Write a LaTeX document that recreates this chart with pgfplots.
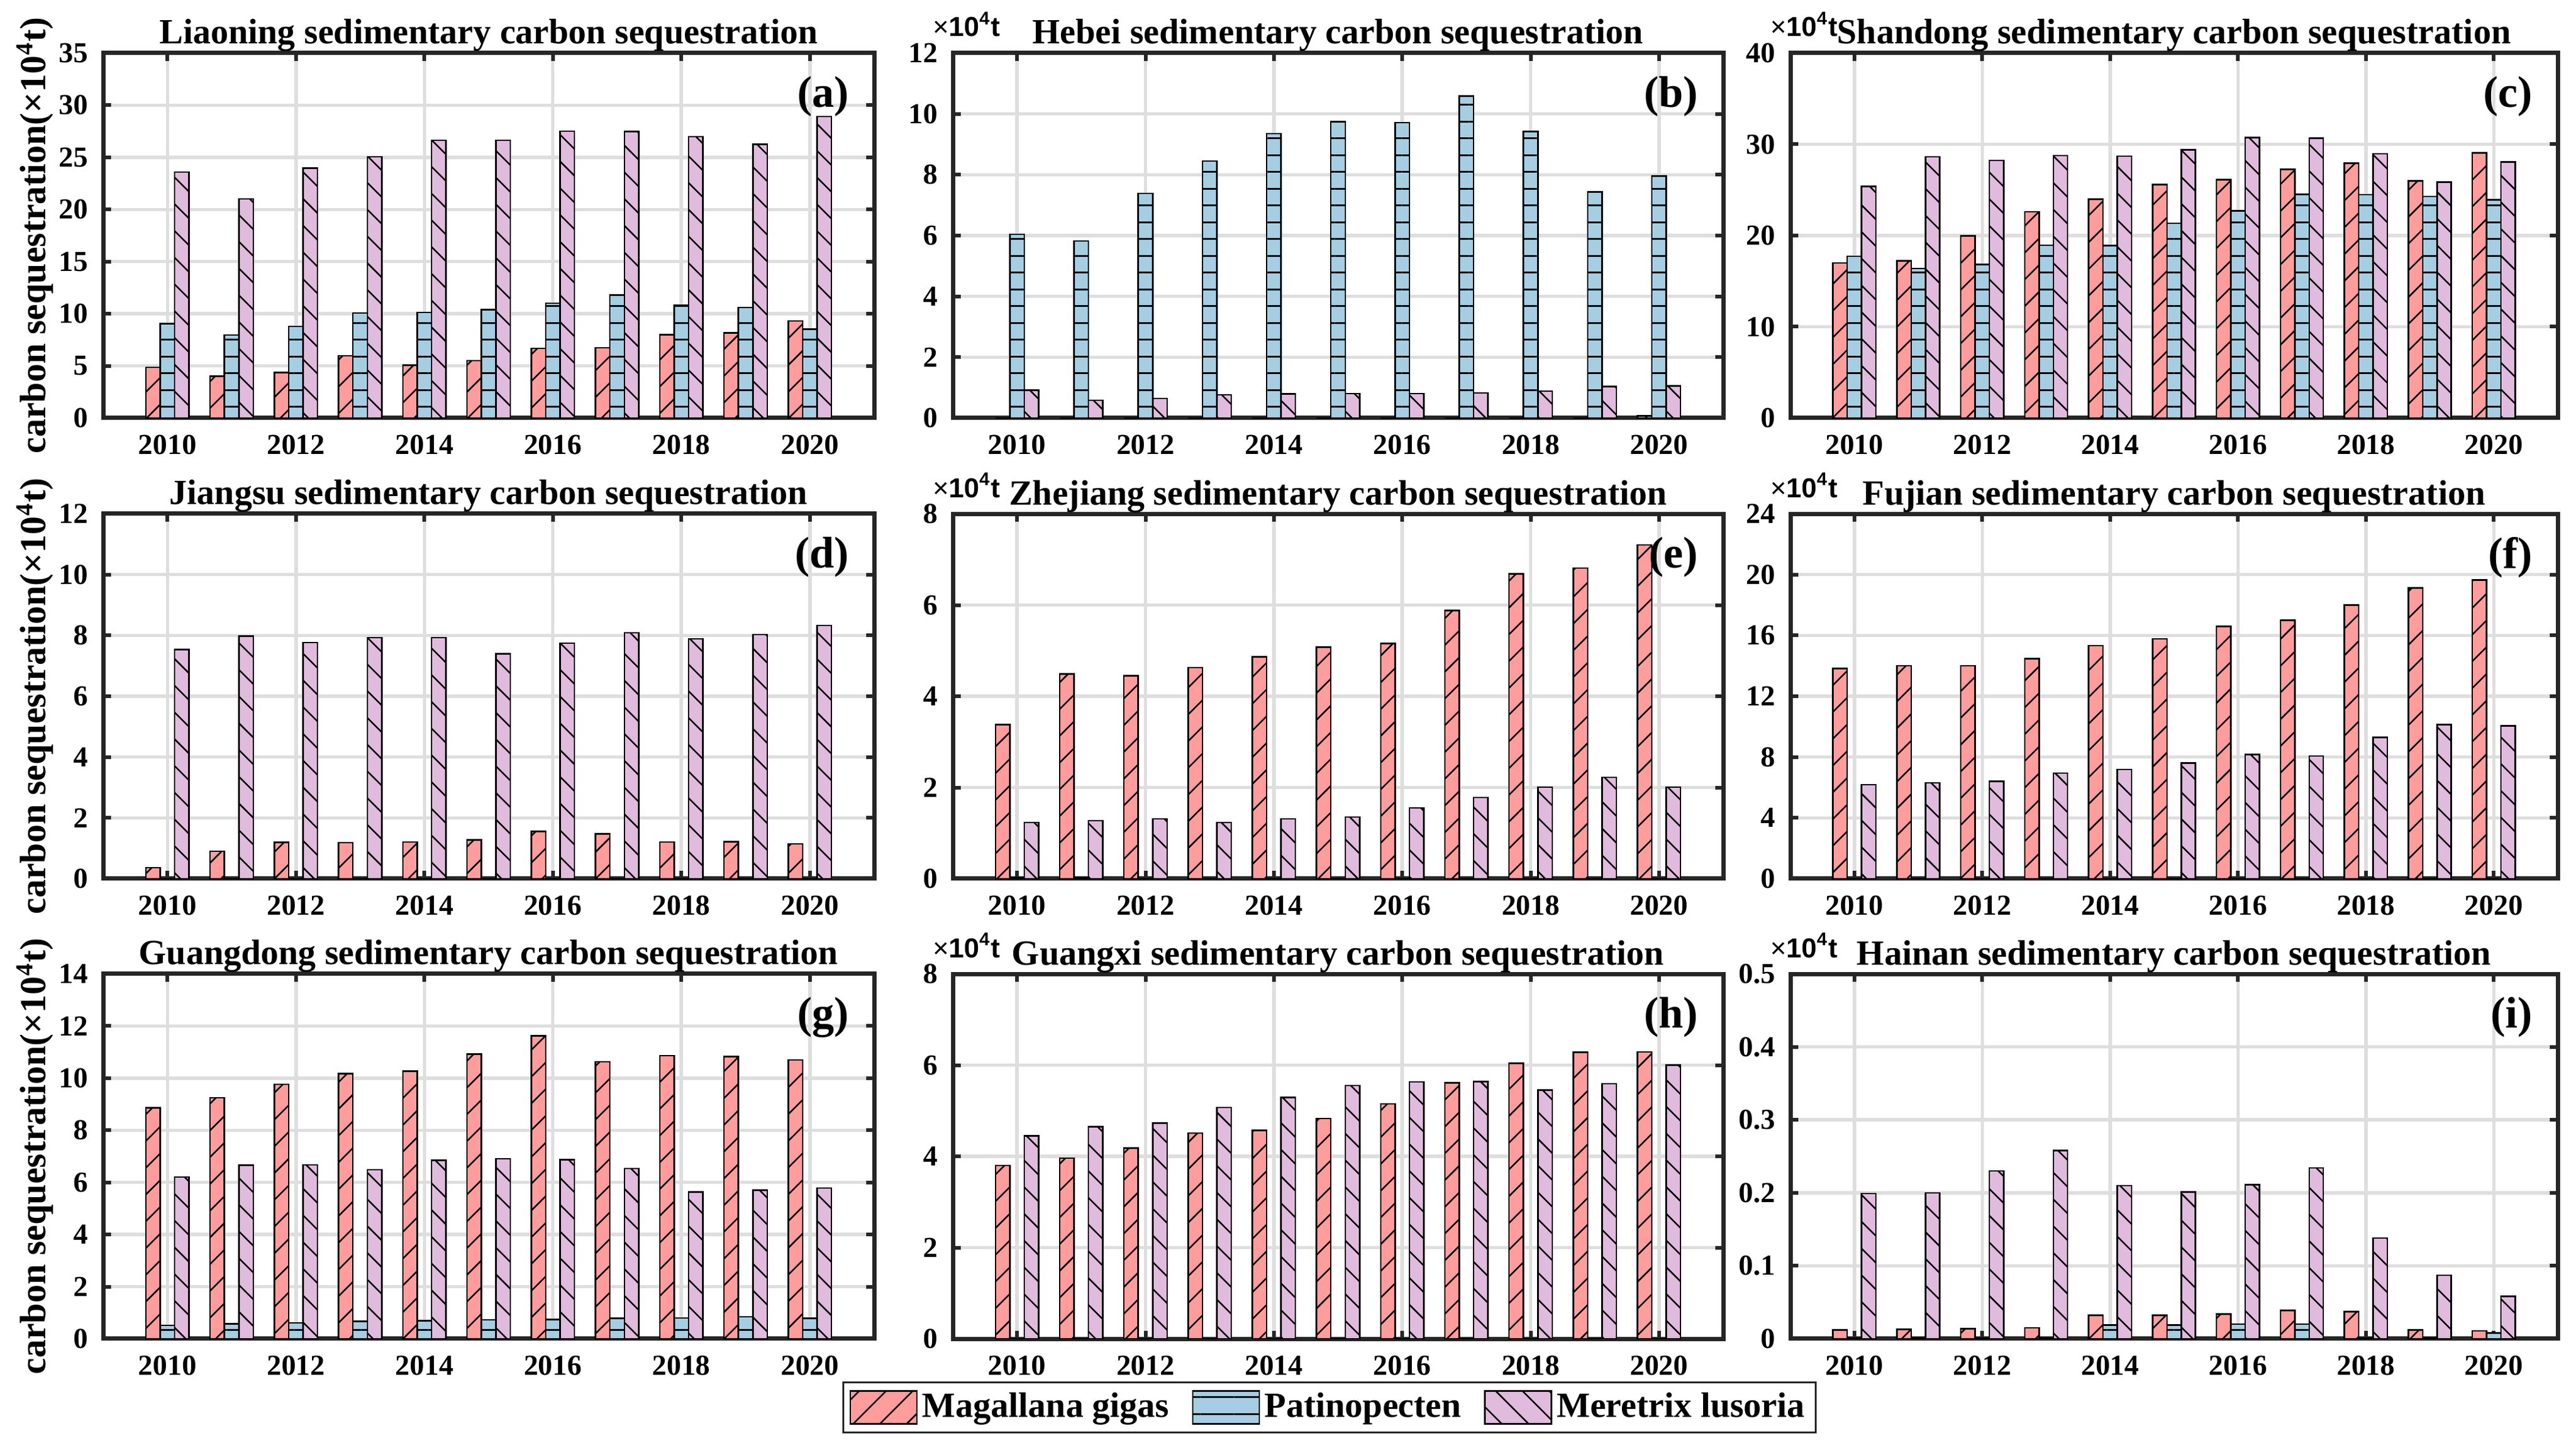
\documentclass[border=0pt]{standalone}
\usepackage{fontspec}
\setmainfont{Liberation Serif}
\newfontfamily\lsans{Liberation Sans}
\usepackage{pgfplots}
\pgfplotsset{compat=1.18}
\usetikzlibrary{patterns.meta}
\definecolor{cRed}{RGB}{255,157,157}
\definecolor{cBlue}{RGB}{166,206,227}
\definecolor{cPurp}{RGB}{225,187,221}
\definecolor{axc}{RGB}{38,38,38}

\pgfplotsset{
 panel/.style={scale only axis, height=119.6pt, xmin=2009, xmax=2021, ymin=0,
  xtick={2010,2012,...,2020}, xticklabels={2010,2012,2014,2016,2018,2020},
  ybar, bar width=0.224, clip=false,
  axis line style={line width=1.4pt, axc},
  tick align=inside, major tick length=2.6pt,
  every tick/.style={axc, line width=1.2pt},
  xmajorgrids, ymajorgrids, major grid style={line width=1.1pt, black!13},
  ticklabel style={font=\fontsize{9.5}{11}\selectfont\bfseries, text=black},
  /pgf/number format/assume math mode=true,
  scaled y ticks=false,
  xticklabel shift=2pt, yticklabel shift=1.4pt,
  title style={font=\fontsize{11.6}{13}\selectfont\bfseries, at={(axis description cs:0.5,1)}, anchor=base, yshift=-3pt},
  ylabel style={font=\fontsize{12}{14}\selectfont\bfseries, at={(axis description cs:-0.0745,0.5)}, anchor=base},
 },
 sRed/.style={fill=cRed, draw=black, line width=0.5pt, bar shift=-0.224, postaction={pattern={Lines[angle=45,distance=6.2pt,line width=0.5pt]}}},
 sBlue/.style={fill=cBlue, draw=black, line width=0.5pt, bar shift=0, postaction={pattern={Lines[angle=0,distance=5.5pt,line width=0.6pt]}}},
 sPurp/.style={fill=cPurp, draw=black, line width=0.5pt, bar shift=0.224, postaction={pattern={Lines[angle=-45,distance=6.2pt,line width=0.5pt]}}},
}
\newcommand{\expo}{\node[anchor=base west, inner sep=0pt, font=\lsans\fontsize{9}{10}\selectfont] at ([xshift=-6.8pt,yshift=5.4pt]rel axis cs:0,1) {×\textbf{10\textsuperscript{4}t}};}
\newcommand{\plab}[1]{\node[anchor=north east, inner sep=0pt, font=\fontsize{14.5}{16}\selectfont\bfseries] at ([xshift=-8pt,yshift=-7.4pt]rel axis cs:1,1) {#1};}
\newcommand{\ylab}{carbon sequestration(×10\textsuperscript{4}t)}

\begin{document}
\begin{tikzpicture}
\useasboundingbox (0,0) rectangle (844pt,474.4pt);

% (a) Liaoning
\begin{axis}[panel, at={(33.8pt,337.4pt)}, anchor=south west, width=252.6pt,
  ymax=35, ytick={0,5,...,35}, title={Liaoning sedimentary carbon sequestration}, ylabel={\ylab}]
\addplot[sRed] coordinates {(2010,4.85)(2011,4.0)(2012,4.37)(2013,5.96)(2014,5.05)(2015,5.5)(2016,6.67)(2017,6.73)(2018,7.98)(2019,8.17)(2020,9.31)};
\addplot[sBlue] coordinates {(2010,9.05)(2011,7.95)(2012,8.77)(2013,10.08)(2014,10.13)(2015,10.39)(2016,11.01)(2017,11.78)(2018,10.79)(2019,10.59)(2020,8.52)};
\addplot[sPurp] coordinates {(2010,23.59)(2011,21.0)(2012,23.96)(2013,25.06)(2014,26.62)(2015,26.62)(2016,27.5)(2017,27.48)(2018,26.99)(2019,26.26)(2020,28.9)};
\plab{(a)}
\end{axis}

% (b) Hebei
\begin{axis}[panel, at={(312.2pt,337.4pt)}, anchor=south west, width=252.4pt,
  ymax=12, ytick={0,2,...,12}, title={Hebei sedimentary carbon sequestration}]
\addplot[sRed] coordinates {(2010,0)(2011,0)(2012,0)(2013,0)(2014,0)(2015,0)(2016,0)(2017,0)(2018,0)(2019,0)(2020,0.07)};
\addplot[sBlue] coordinates {(2010,6.04)(2011,5.82)(2012,7.38)(2013,8.45)(2014,9.35)(2015,9.74)(2016,9.71)(2017,10.58)(2018,9.42)(2019,7.43)(2020,7.96)};
\addplot[sPurp] coordinates {(2010,0.91)(2011,0.58)(2012,0.64)(2013,0.76)(2014,0.79)(2015,0.8)(2016,0.8)(2017,0.82)(2018,0.88)(2019,1.03)(2020,1.05)};
\expo \plab{(b)}
\end{axis}

% (c) Shandong
\begin{axis}[panel, at={(586.6pt,337.4pt)}, anchor=south west, width=251.4pt,
  ymax=40, ytick={0,10,...,40}, title={Shandong sedimentary carbon sequestration}]
\addplot[sRed] coordinates {(2010,17.0)(2011,17.22)(2012,19.98)(2013,22.61)(2014,23.97)(2015,25.59)(2016,26.11)(2017,27.25)(2018,27.93)(2019,25.98)(2020,29.06)};
\addplot[sBlue] coordinates {(2010,17.74)(2011,16.38)(2012,16.83)(2013,18.94)(2014,18.88)(2015,21.34)(2016,22.7)(2017,24.52)(2018,24.49)(2019,24.29)(2020,23.9)};
\addplot[sPurp] coordinates {(2010,25.4)(2011,28.64)(2012,28.22)(2013,28.77)(2014,28.7)(2015,29.39)(2016,30.75)(2017,30.68)(2018,28.97)(2019,25.85)(2020,28.06)};
\expo \plab{(c)}
\end{axis}

% (d) Jiangsu
\begin{axis}[panel, at={(33.8pt,186.4pt)}, anchor=south west, width=252.6pt,
  ymax=12, ytick={0,2,...,12}, title={Jiangsu sedimentary carbon sequestration}, ylabel={\ylab}]
\addplot[sRed] coordinates {(2010,0.36)(2011,0.9)(2012,1.19)(2013,1.18)(2014,1.2)(2015,1.27)(2016,1.56)(2017,1.47)(2018,1.2)(2019,1.21)(2020,1.14)};
\addplot[sBlue] coordinates {(2010,0)(2011,0)(2012,0)(2013,0)(2014,0)(2015,0)(2016,0)(2017,0)(2018,0)(2019,0)(2020,0)};
\addplot[sPurp] coordinates {(2010,7.54)(2011,7.98)(2012,7.77)(2013,7.93)(2014,7.93)(2015,7.39)(2016,7.75)(2017,8.09)(2018,7.89)(2019,8.03)(2020,8.33)};
\plab{(d)}
\end{axis}

% (e) Zhejiang
\begin{axis}[panel, at={(312.2pt,186.4pt)}, anchor=south west, width=252.4pt,
  ymax=8, ytick={0,2,...,8}, title={Zhejiang sedimentary carbon sequestration}]
\addplot[sRed] coordinates {(2010,3.38)(2011,4.49)(2012,4.45)(2013,4.63)(2014,4.86)(2015,5.08)(2016,5.16)(2017,5.88)(2018,6.68)(2019,6.81)(2020,7.32)};
\addplot[sBlue] coordinates {(2010,0.02)(2011,0.02)(2012,0)(2013,0)(2014,0)(2015,0)(2016,0)(2017,0)(2018,0)(2019,0)(2020,0)};
\addplot[sPurp] coordinates {(2010,1.23)(2011,1.27)(2012,1.31)(2013,1.23)(2014,1.31)(2015,1.35)(2016,1.55)(2017,1.78)(2018,2.01)(2019,2.22)(2020,2.01)};
\expo \plab{(e)}
\end{axis}

% (f) Fujian
\begin{axis}[panel, at={(586.6pt,186.4pt)}, anchor=south west, width=251.4pt,
  ymax=24, ytick={0,4,...,24}, title={Fujian sedimentary carbon sequestration}]
\addplot[sRed] coordinates {(2010,13.83)(2011,14.01)(2012,14.01)(2013,14.46)(2014,15.33)(2015,15.78)(2016,16.6)(2017,16.99)(2018,18.0)(2019,19.13)(2020,19.64)};
\addplot[sBlue] coordinates {(2010,0)(2011,0)(2012,0)(2013,0)(2014,0)(2015,0)(2016,0)(2017,0)(2018,0)(2019,0)(2020,0)};
\addplot[sPurp] coordinates {(2010,6.18)(2011,6.31)(2012,6.41)(2013,6.94)(2014,7.19)(2015,7.6)(2016,8.16)(2017,8.07)(2018,9.29)(2019,10.13)(2020,10.05)};
\expo \plab{(f)}
\end{axis}

% (g) Guangdong
\begin{axis}[panel, at={(33.8pt,35.6pt)}, anchor=south west, width=252.6pt,
  ymax=14, ytick={0,2,...,14}, title={Guangdong sedimentary carbon sequestration}, ylabel={\ylab}]
\addplot[sRed] coordinates {(2010,8.86)(2011,9.25)(2012,9.76)(2013,10.17)(2014,10.27)(2015,10.92)(2016,11.62)(2017,10.63)(2018,10.86)(2019,10.83)(2020,10.7)};
\addplot[sBlue] coordinates {(2010,0.51)(2011,0.57)(2012,0.61)(2013,0.67)(2014,0.69)(2015,0.73)(2016,0.74)(2017,0.79)(2018,0.8)(2019,0.84)(2020,0.79)};
\addplot[sPurp] coordinates {(2010,6.2)(2011,6.66)(2012,6.67)(2013,6.49)(2014,6.85)(2015,6.91)(2016,6.87)(2017,6.53)(2018,5.63)(2019,5.7)(2020,5.78)};
\plab{(g)}
\end{axis}

% (h) Guangxi
\begin{axis}[panel, at={(312.2pt,35.6pt)}, anchor=south west, width=252.4pt,
  ymax=8, ytick={0,2,...,8}, title={Guangxi sedimentary carbon sequestration},
  legend columns=3,
  legend style={at={(axis description cs:0.489,-0.188)}, anchor=center, draw=axc, line width=0.6pt,
    font=\fontsize{11.6}{13}\selectfont\bfseries, inner sep=2pt, nodes={inner sep=1.5pt},
    /tikz/every even column/.append style={column sep=6pt}},
  legend image code/.code={\draw[#1] (0pt,-5.4pt) rectangle (21.8pt,5.4pt);}]
\addplot[sRed] coordinates {(2010,3.8)(2011,3.96)(2012,4.18)(2013,4.51)(2014,4.57)(2015,4.83)(2016,5.15)(2017,5.61)(2018,6.04)(2019,6.28)(2020,6.29)};
\addplot[sBlue] coordinates {(2010,0)(2011,0)(2012,0)(2013,0)(2014,0)(2015,0)(2016,0)(2017,0)(2018,0)(2019,0)(2020,0)};
\addplot[sPurp] coordinates {(2010,4.45)(2011,4.65)(2012,4.73)(2013,5.07)(2014,5.29)(2015,5.55)(2016,5.63)(2017,5.64)(2018,5.45)(2019,5.59)(2020,6.0)};
\legend{Magallana gigas, Patinopecten, Meretrix lusoria}
\expo \plab{(h)}
\end{axis}

% (i) Hainan
\begin{axis}[panel, at={(586.6pt,35.6pt)}, anchor=south west, width=251.4pt,
  ymax=0.5, ytick={0,0.1,...,0.5}, title={Hainan sedimentary carbon sequestration}]
\addplot[sRed] coordinates {(2010,0.012)(2011,0.013)(2012,0.014)(2013,0.015)(2014,0.032)(2015,0.032)(2016,0.034)(2017,0.039)(2018,0.037)(2019,0.012)(2020,0.011)};
\addplot[sBlue] coordinates {(2010,0.001)(2011,0.001)(2012,0.001)(2013,0.001)(2014,0.019)(2015,0.019)(2016,0.02)(2017,0.02)(2018,0.001)(2019,0.001)(2020,0.008)};
\addplot[sPurp] coordinates {(2010,0.199)(2011,0.2)(2012,0.23)(2013,0.258)(2014,0.21)(2015,0.201)(2016,0.211)(2017,0.234)(2018,0.138)(2019,0.087)(2020,0.058)};
\expo \plab{(i)}
\end{axis}
\end{tikzpicture}
\end{document}
